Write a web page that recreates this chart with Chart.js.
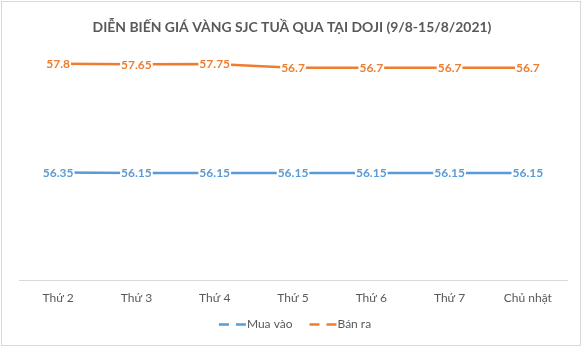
<!DOCTYPE html>
<html><head><meta charset="utf-8">
<script src="https://cdn.jsdelivr.net/npm/chart.js@4"></script>
<style>html,body{margin:0;padding:0;background:#fff;overflow:hidden}#wrap{position:relative;width:587px;height:353px}</style>
</head><body><div id="wrap"><canvas id="c" width="587" height="353"></canvas></div>
<script>
const categories = ["Thứ 2","Thứ 3","Thứ 4","Thứ 5","Thứ 6","Thứ 7","Chủ nhật"];
const muaVao = [56.35,56.15,56.15,56.15,56.15,56.15,56.15];
const banRa = [57.8,57.65,57.75,56.7,56.7,56.7,56.7];
const seriesNames = ["Mua vào","Bán ra"];
const titleText = "DIỄN BIẾN GIÁ VÀNG SJC TUẦ QUA TẠI DOJI (9/8-15/8/2021)";

const BLUE = '#5B9BD5', ORANGE = '#ED7D31', GRAY = '#595959', FONT = 'Lato, "Open Sans", sans-serif';

const decor = {
  id: 'decor',
  beforeDraw(chart) {
    const ctx = chart.ctx;
    ctx.save();
    ctx.fillStyle = '#fff';
    ctx.fillRect(0, 0, chart.width, chart.height);
    ctx.strokeStyle = '#d9d9d9';
    ctx.lineWidth = 1;
    ctx.strokeRect(1.5, 1.5, 579, 344);
    ctx.restore();
  },
  afterDatasetsDraw(chart) {
    const ctx = chart.ctx;
    ctx.save();
    ctx.font = 'bold 12px ' + FONT;
    ctx.textAlign = 'center';
    ctx.textBaseline = 'middle';
    chart.data.datasets.forEach((ds, i) => {
      const meta = chart.getDatasetMeta(i);
      meta.data.forEach((pt, j) => {
        const txt = String(ds.data[j]);
        const w = ctx.measureText(txt).width;
        ctx.fillStyle = '#fff';
        ctx.fillRect(pt.x - w / 2 - 1, pt.y - 6, w + 2, 12);
        ctx.fillStyle = ds.borderColor;
        ctx.fillText(txt, pt.x, pt.y + 0.5);
      });
    });
    ctx.restore();
  },
  afterDraw(chart) {
    const ctx = chart.ctx;
    ctx.save();
    let fs = 14;
    ctx.font = 'bold ' + fs + 'px ' + FONT;
    const tw = ctx.measureText(titleText).width;
    fs = fs * 399 / tw;
    ctx.font = 'bold ' + fs.toFixed(2) + 'px ' + FONT;
    ctx.fillStyle = GRAY;
    ctx.textAlign = 'center';
    ctx.textBaseline = 'middle';
    ctx.fillText(titleText, 292, 27.5);
    ctx.font = '12px ' + FONT;
    ctx.textAlign = 'left';
    const items = chart.data.datasets.map(d => ({ label: d.label, color: d.borderColor, w: 28 + ctx.measureText(d.label).width }));
    const gapItems = 17;
    const total = items.reduce((a, b) => a + b.w, 0) + gapItems * (items.length - 1);
    let x = 295 - total / 2;
    const y = 324.5;
    items.forEach(it => {
      ctx.strokeStyle = it.color;
      ctx.lineWidth = 2.5;
      ctx.beginPath();
      ctx.moveTo(x, y); ctx.lineTo(x + 10, y);
      ctx.moveTo(x + 17, y); ctx.lineTo(x + 27, y);
      ctx.stroke();
      ctx.fillStyle = GRAY;
      ctx.fillText(it.label, x + 28, y);
      x += it.w + gapItems;
    });
    ctx.restore();
  }
};

new Chart(document.getElementById('c'), {
  type: 'line',
  data: {
    labels: categories,
    datasets: [
      { label: seriesNames[0], data: muaVao, borderColor: BLUE, backgroundColor: BLUE, borderWidth: 2.5, pointRadius: 0, tension: 0, yAxisID: 'y2' },
      { label: seriesNames[1], data: banRa, borderColor: ORANGE, backgroundColor: ORANGE, borderWidth: 2.5, pointRadius: 0, tension: 0, yAxisID: 'y' }
    ]
  },
  options: {
    responsive: false,
    animation: false,
    devicePixelRatio: 1,
    layout: { padding: { left: 19, right: 20, top: 54, bottom: 43 } },
    plugins: { legend: { display: false }, title: { display: false }, tooltip: { enabled: false } },
    scales: {
      x: {
        offset: true,
        grid: { display: false, drawTicks: false },
        border: { display: true, color: '#d9d9d9', width: 1 },
        ticks: { color: GRAY, font: { family: FONT, size: 12 }, padding: 11, maxRotation: 0, autoSkip: false },
        afterFit(s) { s.height = 30; }
      },
      y: { display: false, min: 0, max: 60.4 },
      y2: { display: false, position: 'right', min: 0, max: 118.6 }
    }
  },
  plugins: [decor]
});
</script>
</body></html>
